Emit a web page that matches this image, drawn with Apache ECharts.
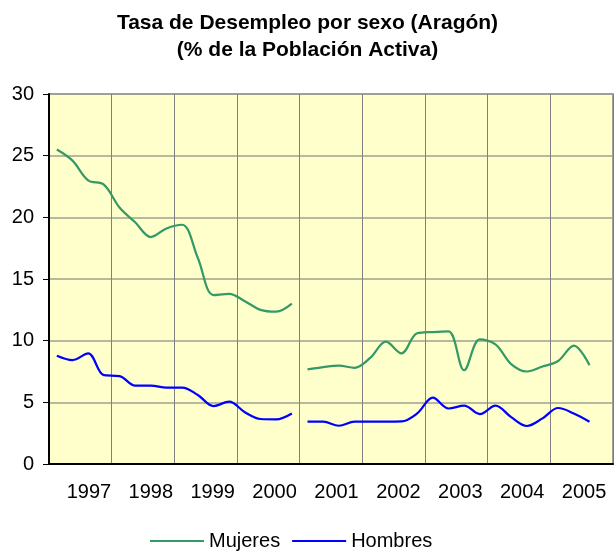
<!DOCTYPE html>
<html>
<head>
<meta charset="utf-8">
<script src="https://cdn.jsdelivr.net/npm/echarts@6/dist/echarts.min.js"></script>
<style>
  body { margin: 0; background: #fff; }
  #chart { width: 615px; height: 551px; }
</style>
</head>
<body>
<div id="chart"></div>
<script>
  // años del eje X
  var years = ['1997', '1998', '1999', '2000', '2001', '2002', '2003', '2004', '2005']
  // 36 trimestres (9 años x 4)
  var quarters = []
  for (var i = 0; i < years.length; i++) {
    quarters.push('I-' + years[i], 'II-' + years[i], 'III-' + years[i], 'IV-' + years[i])
  }
  var yTicks = [0, 5, 10, 15, 20, 25, 30]

  // tramo 1 (trimestres 0..15)
  var mujeres1 = [25.5, 24.6, 23.0, 22.65, 20.8, 19.6, 18.4, 19.1, 19.4, 16.7, 13.7, 13.8, 13.2, 12.5, 12.35, 13.0]
  var hombres1 = [8.78, 8.43, 8.97, 7.2, 7.13, 6.35, 6.35, 6.2, 6.2, 5.6, 4.7, 5.05, 4.2, 3.65, 3.62, 4.1]
  // tramo 2 (trimestres 16..34)
  var mujeres2 = [7.67, 7.85, 7.97, 7.8, 8.6, 9.92, 8.97, 10.6, 10.7, 10.75, 7.6, 10.1, 9.7, 8.1, 7.5, 7.9, 8.35, 9.6, 8.0]
  var hombres2 = [3.43, 3.43, 3.1, 3.43, 3.43, 3.43, 3.45, 4.1, 5.38, 4.5, 4.73, 4.05, 4.73, 3.8, 3.08, 3.7, 4.54, 4.1, 3.43]

  function tramo1(arr) {
    var out = arr.slice()
    while (out.length < quarters.length) out.push('-')
    return out
  }
  function tramo2(arr) {
    var out = []
    for (var i = 0; i < mujeres1.length; i++) out.push('-')
    out = out.concat(arr)
    while (out.length < quarters.length) out.push('-')
    return out
  }

  var font = 'Liberation Sans, Arial, sans-serif'
  var verde = '#339966'
  var azul = '#0000ff'

  var chart = echarts.init(document.getElementById('chart'))
  chart.setOption({
    animation: false,
    title: {
      text: 'Tasa de Desempleo por sexo (Aragón)\n(% de la Población Activa)',
      left: 'center',
      top: 5,
      textStyle: {
        fontFamily: font,
        fontSize: 21,
        fontWeight: 'bold',
        color: '#000',
        lineHeight: 27
      }
    },
    legend: {
      top: 526,
      left: 145,
      icon: 'rect',
      itemWidth: 54,
      itemHeight: 2,
      itemGap: 12,
      data: ['Mujeres', 'Hombres'],
      textStyle: { fontFamily: font, fontSize: 20, color: '#000' }
    },
    grid: [
      {
        left: 49, top: 94, width: 564, height: 370,
        show: true,
        backgroundColor: '#ffffcc',
        borderColor: '#808080',
        borderWidth: 1.5
      },
      // grid auxiliar solo para las etiquetas de los años
      { left: 58, top: 94, width: 564, height: 370 }
    ],
    xAxis: [
      {
        type: 'category',
        gridIndex: 0,
        data: quarters,
        boundaryGap: true,
        axisLine: { lineStyle: { color: '#000', width: 2 } },
        axisTick: { show: false },
        axisLabel: { show: false },
        splitLine: {
          show: true,
          interval: function (index) { return index % 4 === 0 },
          lineStyle: { color: '#808080', width: 1 }
        }
      },
      {
        type: 'category',
        gridIndex: 1,
        data: years,
        boundaryGap: true,
        axisLine: { show: false },
        axisTick: { show: false },
        splitLine: { show: false },
        axisLabel: {
          interval: 0,
          margin: 18,
          fontFamily: font,
          fontSize: 20,
          color: '#000'
        }
      }
    ],
    yAxis: [
      {
        type: 'value',
        gridIndex: 0,
        min: yTicks[0],
        max: yTicks[yTicks.length - 1],
        interval: 5,
        axisLine: { show: true, lineStyle: { color: '#000', width: 2 } },
        axisTick: { show: true, length: 6, lineStyle: { color: '#000' } },
        axisLabel: { margin: 15, fontFamily: font, fontSize: 20, color: '#000' },
        splitLine: { lineStyle: { color: '#a0a090', width: 1.5 } }
      },
      {
        type: 'value',
        gridIndex: 1,
        show: false
      }
    ],
    series: [
      {
        name: 'Mujeres', type: 'line', xAxisIndex: 0, yAxisIndex: 0,
        data: tramo1(mujeres1), smooth: 0.35, symbol: 'none',
        color: verde, lineStyle: { width: 2.2, color: verde }
      },
      {
        name: 'Mujeres', type: 'line', xAxisIndex: 0, yAxisIndex: 0,
        data: tramo2(mujeres2), smooth: 0.35, symbol: 'none',
        color: verde, lineStyle: { width: 2.2, color: verde }
      },
      {
        name: 'Hombres', type: 'line', xAxisIndex: 0, yAxisIndex: 0,
        data: tramo1(hombres1), smooth: 0.35, symbol: 'none',
        color: azul, lineStyle: { width: 2.2, color: azul }
      },
      {
        name: 'Hombres', type: 'line', xAxisIndex: 0, yAxisIndex: 0,
        data: tramo2(hombres2), smooth: 0.35, symbol: 'none',
        color: azul, lineStyle: { width: 2.2, color: azul }
      }
    ]
  })
</script>
</body>
</html>
